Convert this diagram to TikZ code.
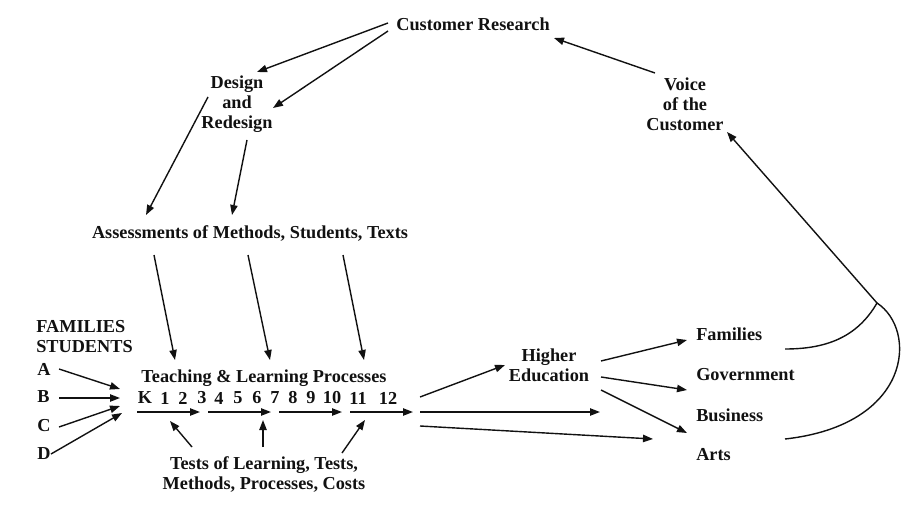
\documentclass[tikz,border=0pt]{standalone}
\usepackage{fontspec}
\setmainfont{Liberation Serif}
\usepackage{xcolor}
\definecolor{cInk}{HTML}{111111}
\usetikzlibrary{arrows.meta,calc}
\tikzset{
  lbl/.style={inner sep=0pt,align=center,text=cInk,
    font=\fontsize{13.7}{15}\selectfont\bfseries},
  lbl-left/.style={lbl,anchor=west,align=left},
  arrow/.style={-{Triangle[length=7.5pt,width=5.5pt]},line width=1.05pt,draw=cInk},
  link/.style={line width=1.05pt,draw=cInk},
}

\begin{document}
\begin{tikzpicture}[x=0.75pt,y=-0.75pt]
  \useasboundingbox (0,0) rectangle (924,517);
  % top loop
  \node[lbl] (research) at (473,24)  {Customer Research};
  \node[lbl] (design)   at (237,104) {Design\\and\\Redesign};
  \node[lbl] (voice)    at (685,104) {Voice\\of the\\Customer};
  \node[lbl] (assess)   at (250,233) {Assessments of Methods, Students, Texts};
  % inputs on the left
  \node[lbl-left] (fam-stud) at (36,337) {FAMILIES\\STUDENTS};
  \node[lbl-left] (in-a) at (37,369) {A};
  \node[lbl-left] (in-b) at (37,397) {B};
  \node[lbl-left] (in-c) at (37,426) {C};
  \node[lbl-left] (in-d) at (37,454) {D};
  % the grades
  \node[lbl] (teach) at (264,378) {Teaching \& Learning Processes};
  \foreach \g/\x in {K/145,1/165,2/183,3/202,4/219,5/238,6/257,7/275,8/293,9/311,10/332,11/358,12/388}
    \node[lbl] (g-\g) at (\x,398) {\g};
  \node[lbl] (tests) at (264,474) {Tests of Learning, Tests,\\Methods, Processes, Costs};
  % outcomes
  \node[lbl] (higher) at (549,365) {Higher\\Education};
  \node[lbl-left] (out-fam)  at (696,334) {Families};
  \node[lbl-left] (out-gov)  at (696,375) {Government};
  \node[lbl-left] (out-bus)  at (696,415) {Business};
  \node[lbl-left] (out-arts) at (696,455) {Arts};

  \draw[arrow] ($(research)+(-85,-1)$) -- ($(design)+(20,-32)$);
  \draw[arrow] ($(research)+(-85,7)$)  -- ($(design)+(36,4)$);
  \draw[arrow] ($(voice)+(-30,-31)$)   -- ($(research)+(81,14)$);
  \draw[arrow] ($(design)+(-29,-7)$)   -- ($(assess)+(-104,-18)$);
  \draw[arrow] ($(design)+(10,36)$)    -- ($(assess)+(-18,-18)$);
  \draw[arrow] ($(assess)+(-96,22)$)   -- ($(teach)+(-89,-18)$);
  \draw[arrow] ($(assess)+(-2,22)$)    -- ($(teach)+(6,-18)$);
  \draw[arrow] ($(assess)+(93,22)$)    -- ($(teach)+(100,-18)$);

  \draw[arrow] ($(in-a.west)+(22,0)$) -- ($(g-K)+(-25,-9)$);
  \draw[arrow] ($(in-b.west)+(22,1)$) -- ($(g-K)+(-25,0)$);
  \draw[arrow] ($(in-c.west)+(22,1)$) -- ($(g-K)+(-25,8)$);
  \draw[arrow] ($(in-d.west)+(14,0)$) -- ($(g-K)+(-23,15)$);

  \draw[arrow] ($(g-K)+(-8,14)$)  -- ($(g-3)+(-2,14)$);
  \draw[arrow] ($(g-4)+(-11,14)$) -- ($(g-7)+(-4,14)$);
  \draw[arrow] ($(g-8)+(-14,14)$) -- ($(g-10)+(10,14)$);
  \draw[arrow] ($(g-11)+(-8,14)$) -- ($(g-12)+(25,14)$);

  \draw[arrow] ($(tests)+(-72,-27)$) -- ($(g-1)+(5,23)$);
  \draw[arrow] ($(tests)+(-1,-27)$)  -- ($(g-6)+(6,22)$);
  \draw[arrow] ($(tests)+(78,-21)$)  -- ($(g-11)+(7,22)$);

  \draw[arrow] ($(g-12)+(32,-1)$) -- ($(higher)+(-44,0)$);
  \draw[arrow] ($(g-12)+(32,14)$) -- ($(higher)+(51,47)$);
  \draw[arrow] ($(g-12)+(32,28)$) -- ($(out-arts.west)+(-43,-16)$);

  \draw[arrow] ($(higher)+(52,-4)$) -- ($(out-fam.west)+(-9,6)$);
  \draw[arrow] ($(higher)+(52,12)$) -- ($(out-gov.west)+(-9,15)$);
  \draw[arrow] ($(higher)+(52,25)$) -- ($(out-bus.west)+(-9,18)$);

  % feedback to the voice of the customer
  \coordinate (fb) at (877,303);
  \draw[link] ($(out-fam.west)+(89,15)$) to[out=0,in=-120] (fb);
  \draw[link] (fb) .. controls (918,330) and (912,425) .. ($(out-bus.west)+(89,24)$);
  \draw[arrow] (fb) -- ($(voice)+(42,28)$);
\end{tikzpicture}
\end{document}
